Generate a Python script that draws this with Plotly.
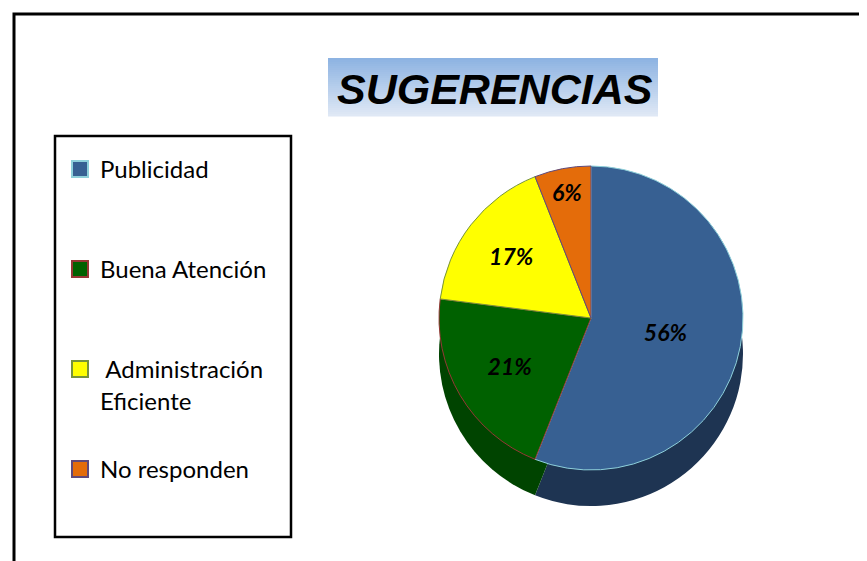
import plotly.graph_objects as go

# ---- data ----
categories = ["Publicidad", "Buena Atención", "Administración Eficiente", "No responden"]
legend_labels = ["Publicidad", "Buena Atención", "\u00a0Administración<br>Eficiente", "No responden"]
values = [56, 21, 17, 6]
colors = ["#376092", "#006100", "#FFFF00", "#E46C0A"]
edge_colors = ["#8ED0DA", "#953735", "#77933C", "#604A7B"]
side_colors = ["#1E3452", "#004400", "#9A9A00", "#8A4006"]
title_text = "SUGERENCIAS"

# page body has an 8px margin; figure sized so it fits the 867x561 window
OFF = 8
W, H = 867 - OFF, 561 - OFF


def px(x):
    return (x - OFF) / W


def py(y):
    return 1 - (y - OFF) / H


cx, cy, r, depth = 591, 318, 152, 36

fig = go.Figure()

# depth (side wall) pie
fig.add_trace(go.Pie(
    labels=categories, values=values, sort=False, direction="clockwise", rotation=0,
    marker=dict(colors=side_colors, line=dict(width=0)),
    textinfo="none", hoverinfo="skip", showlegend=False,
    domain=dict(x=[px(cx - r), px(cx + r)], y=[py(cy + depth + r), py(cy + depth - r)]),
))

# top face pie
fig.add_trace(go.Pie(
    labels=categories, values=values, sort=False, direction="clockwise", rotation=0,
    marker=dict(colors=colors, line=dict(color=edge_colors, width=1)),
    textinfo="percent", texttemplate="<b><i>%{percent:.0%}</i></b>",
    textposition="inside", insidetextorientation="horizontal",
    textfont=dict(family="Lato", size=23, color="black"),
    showlegend=False,
    domain=dict(x=[px(cx - r), px(cx + r)], y=[py(cy + r), py(cy - r)]),
))

# legend entries
legend_centers = [170, 270, 370, 470]
legend_names = ["legend", "legend2", "legend3", "legend4"]
legend_layouts = {}
for i, lab in enumerate(legend_labels):
    fig.add_trace(go.Scatter(
        x=[None], y=[None], mode="markers", name=lab,
        marker=dict(symbol="square", size=16, color=colors[i],
                    line=dict(color=edge_colors[i], width=2)),
        legend=legend_names[i], hoverinfo="skip",
    ))
    legend_layouts[legend_names[i]] = dict(
        x=px(60), xanchor="left", y=py(legend_centers[i] - 23), yanchor="top",
        bgcolor="rgba(0,0,0,0)", borderwidth=0, valign="top",
        font=dict(family="Lato", size=24, color="black"),
    )

shapes = []
# outer frame (left + top border)
shapes.append(dict(type="rect", xref="paper", yref="paper",
                   x0=px(14), x1=px(W + 40), y0=py(H + 40), y1=py(14),
                   line=dict(color="black", width=3), fillcolor="rgba(0,0,0,0)"))
# legend box
shapes.append(dict(type="rect", xref="paper", yref="paper",
                   x0=px(55), x1=px(291), y0=py(537), y1=py(136),
                   line=dict(color="black", width=2.5), fillcolor="white", layer="below"))
# title gradient background
tx0, tx1, ty0, ty1 = 328, 658, 58, 116
n = 29
top_rgb = (141, 179, 226)
bot_rgb = (223, 232, 245)
for k in range(n):
    t = k / (n - 1)
    c = tuple(round(top_rgb[j] + (bot_rgb[j] - top_rgb[j]) * t) for j in range(3))
    y0 = ty0 + (ty1 - ty0) * k / n
    y1 = ty0 + (ty1 - ty0) * (k + 1) / n
    shapes.append(dict(type="rect", xref="paper", yref="paper",
                       x0=px(tx0), x1=px(tx1), y0=py(y1 + 0.5), y1=py(y0),
                       line=dict(width=0), fillcolor="rgb(%d,%d,%d)" % c, layer="below"))

fig.update_layout(
    width=W, height=H,
    margin=dict(l=0, r=0, t=0, b=0),
    paper_bgcolor="white", plot_bgcolor="white",
    xaxis=dict(visible=False), yaxis=dict(visible=False),
    shapes=shapes,
    annotations=[dict(
        text="<b><i>%s</i></b>" % title_text, xref="paper", yref="paper",
        x=px(495), y=py(89), xanchor="center", yanchor="middle", showarrow=False,
        font=dict(family="Liberation Sans, Arial", size=43, color="black"),
    )],
    **legend_layouts,
)

fig.write_html("out.html")
